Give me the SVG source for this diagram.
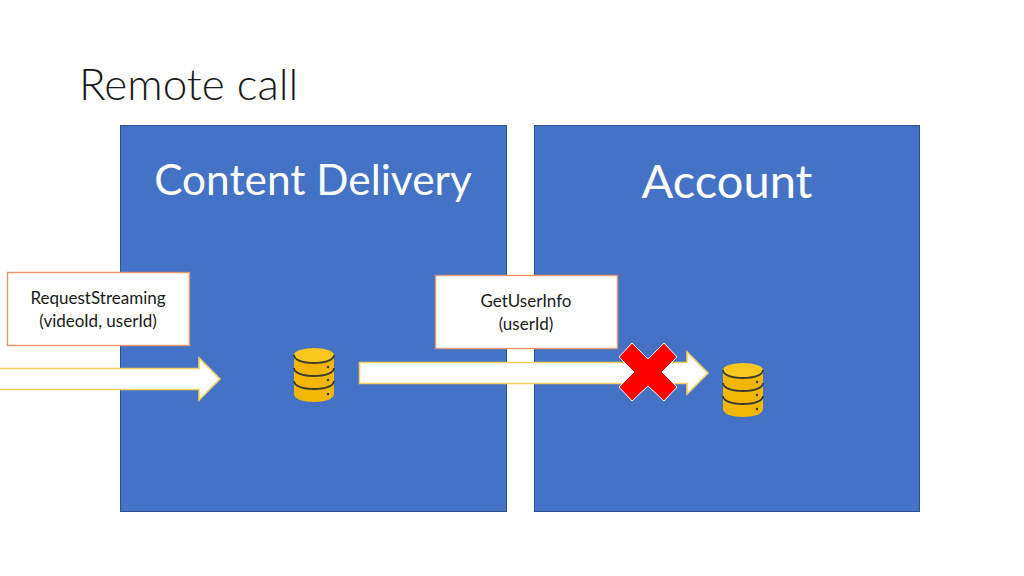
<svg xmlns="http://www.w3.org/2000/svg" width="1024" height="576" viewBox="0 0 1024 576">
<defs>
<style>
text{font-family:"Lato","Open Sans",sans-serif;}
.panel{fill:#4472c4;stroke:#2f528f;stroke-width:1}
.box{fill:#fff;stroke:#e8946a;stroke-width:1.4}
.lbl{font-size:17px;fill:#1a1a1a;text-anchor:middle}
.big{font-size:42.400px;fill:#fff;text-anchor:middle}
.arrow{fill:#fff;stroke:#f5cf60;stroke-width:1.600}
.dot{fill:#333}
</style>
<g id="db">
<path d="M0 7 V46 C0 51 9 54 20 54 C31 54 40 51 40 46 V7 Z" fill="#f2b705"/>
<path d="M0 33 C0 38 9 41 20 41 C31 41 40 38 40 33" fill="none" stroke="#3a3a30" stroke-width="1.800"/>
<path d="M0 20 C0 25 9 28 20 28 C31 28 40 25 40 20" fill="none" stroke="#3a3a30" stroke-width="1.800"/>
<ellipse cx="20" cy="7" rx="20" ry="7" fill="#f9c71f"/>
<path d="M0 7 C0 12 9 15 20 15 C31 15 40 12 40 7" fill="none" stroke="#3a3a30" stroke-width="1.800"/>
<circle class="dot" cx="34" cy="19" r="1.200"/><circle class="dot" cx="34" cy="32" r="1.200"/><circle class="dot" cx="34" cy="46" r="1.200"/>
</g>
</defs>
<rect width="1024" height="576" fill="#fff"/>
<text id="title" x="79" y="100" font-size="44" font-weight="300" fill="#1a1a1a">Remote call</text>
<g id="content-delivery">
<rect class="panel" x="120.500" y="125.500" width="386" height="386"/>
<text class="big" x="313" y="195">Content Delivery</text>
</g>
<g id="account">
<rect class="panel" x="534.500" y="125.500" width="385" height="386"/>
<text class="big" x="727" y="198" style="font-size:47px">Account</text>
</g>
<g id="connectors">
<path class="arrow" d="M-2 368.500 H199 V358 L220 379 L199 400 V389.500 H-2 Z"/>
<path class="arrow" d="M359.500 362.500 H687 V352 L708 373 L687 394 V383.500 H359.500 Z"/>
</g>
<g id="request-streaming">
<rect class="box" x="7.500" y="272.500" width="182" height="73"/>
<text class="lbl" x="98" y="304">RequestStreaming</text>
<text class="lbl" x="98" y="327">(videoId, userId)</text>
</g>
<g id="get-user-info">
<rect class="box" x="435.500" y="275.500" width="182" height="73"/>
<text class="lbl" x="526" y="307">GetUserInfo</text>
<text class="lbl" x="526" y="330">(userId)</text>
</g>
<g id="db-left"><use href="#db" x="294" y="348"/></g>
<g id="db-right"><use href="#db" x="723" y="363"/></g>
<g id="cross">
<path d="M632 343 L648 359 L664 343 L677 357 L662 372 L677 387 L664 401 L648 386 L632 401 L619 387 L634 372 L619 357 Z" fill="#f00" stroke="#fff" stroke-width="1"/>
</g>
</svg>
